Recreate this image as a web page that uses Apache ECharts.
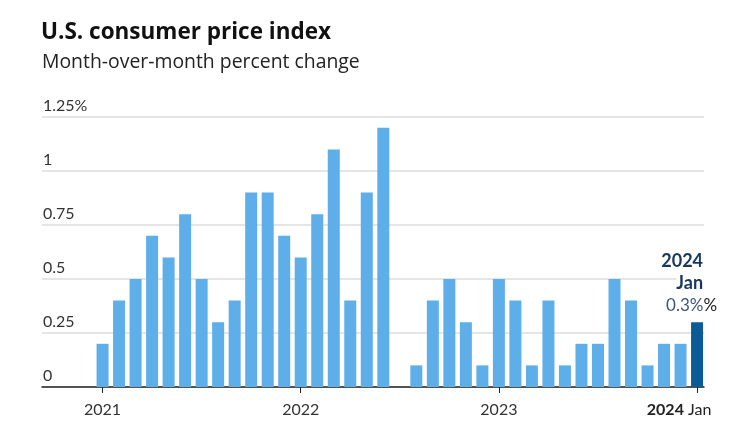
<!DOCTYPE html>
<html>
<head>
<meta charset="utf-8">
<script src="https://cdn.jsdelivr.net/npm/echarts@6/dist/echarts.min.js"></script>
<style>
html,body{margin:0;padding:0;background:#fff;}
#chart{width:740px;height:438px;}
</style>
</head>
<body>
<div id="chart"></div>
<script>
var months = [
  '2021-01','2021-02','2021-03','2021-04','2021-05','2021-06','2021-07','2021-08','2021-09','2021-10','2021-11','2021-12',
  '2022-01','2022-02','2022-03','2022-04','2022-05','2022-06','2022-07','2022-08','2022-09','2022-10','2022-11','2022-12',
  '2023-01','2023-02','2023-03','2023-04','2023-05','2023-06','2023-07','2023-08','2023-09','2023-10','2023-11','2023-12',
  '2024-01'
];
var cpi = [
  0.2,0.4,0.5,0.7,0.6,0.8,0.5,0.3,0.4,0.9,0.9,0.7,
  0.6,0.8,1.1,0.4,0.9,1.2,0.0,0.1,0.4,0.5,0.3,0.1,
  0.5,0.4,0.1,0.4,0.1,0.2,0.2,0.5,0.4,0.1,0.2,0.2,
  0.3
];
var tickIndex = [0, 12, 24, 36];
var tickYears = ['2021', '2022', '2023', '2024'];
var yTicks = [0, 0.25, 0.5, 0.75, 1, 1.25];

var FONT = 'Lato';
var TFONT = 'Open Sans';
var light = '#5eaeea';
var dark = '#0b5c96';
var navy = '#17375e';

var data = cpi.map(function (v, i) {
  var item = { value: [i, v] };
  if (i === cpi.length - 1) {
    item.itemStyle = { color: dark };
    item.label = {
      show: true,
      position: [26, -6],
      align: 'right',
      verticalAlign: 'bottom',
      formatter: function (p) {
        return '{y|2024}\n{m|Jan}\n{v|' + p.value[1].toFixed(1) + '%}{p|%}';
      },
      rich: {
        y: { fontFamily: FONT, fontSize: 18, fontWeight: 'bold', color: navy, lineHeight: 22, padding: [0, 14, 0, 0], align: 'right' },
        m: { fontFamily: FONT, fontSize: 18, fontWeight: 'bold', color: navy, lineHeight: 22, padding: [0, 14, 0, 0], backgroundColor: '#fff', align: 'right' },
        v: { fontFamily: FONT, fontSize: 17, color: '#3e5573', lineHeight: 22 },
        p: { fontFamily: FONT, fontSize: 17, color: '#222', lineHeight: 22 }
      }
    };
  }
  return item;
});

var chart = echarts.init(document.getElementById('chart'), null, { renderer: 'canvas' });
chart.setOption({
  animation: false,
  backgroundColor: '#fff',
  title: [
    { text: 'U.S. consumer price index', left: 41, top: 21, padding: 0,
      textStyle: { fontFamily: TFONT, fontSize: 22.5, fontWeight: 'bold', color: '#111' } },
    { text: 'Month-over-month percent change', left: 42, top: 53, padding: 0,
      textStyle: { fontFamily: TFONT, fontSize: 19.4, fontWeight: 'normal', color: '#222' } }
  ],
  grid: { left: 42, right: 36, top: 117, bottom: 51, containLabel: false },
  xAxis: {
    type: 'value',
    min: -3.667,
    max: 36.42,
    axisLine: { show: true, lineStyle: { color: '#222', width: 1.5 } },
    axisTick: { show: true, customValues: tickIndex, length: 6, lineStyle: { color: '#222', width: 1 } },
    splitLine: { show: false },
    axisLabel: {
      customValues: tickIndex,
      margin: 15,
      fontFamily: FONT, fontSize: 16, color: '#333',
      formatter: function (v) {
        var k = tickIndex.indexOf(Math.round(v));
        if (k < 0) return '';
        if (k === tickIndex.length - 1) return '{b|' + tickYears[k] + '}{n| Jan}';
        return tickYears[k];
      },
      rich: {
        b: { fontFamily: FONT, fontSize: 16, fontWeight: 'bold', color: '#222' },
        n: { fontFamily: FONT, fontSize: 16, color: '#222', padding: [0, 36, 0, 0] }
      }
    }
  },
  yAxis: {
    type: 'value',
    min: 0,
    max: 1.25,
    interval: 0.25,
    axisLine: { show: false },
    axisTick: { show: false },
    splitLine: { show: true, lineStyle: { color: '#dcdcdc', width: 1.5 } },
    axisLabel: {
      inside: true,
      margin: 1,
      verticalAlign: 'bottom',
      padding: [0, 0, 3, 0],
      fontFamily: FONT, fontSize: 16, color: '#333',
      formatter: function (v) {
        if (Math.abs(v - yTicks[yTicks.length - 1]) < 1e-9) return v + '%';
        return String(v);
      }
    }
  },
  series: [{
    type: 'bar',
    barWidth: 12,
    itemStyle: { color: light },
    data: data,
    z: 3
  }]
});
</script>
</body>
</html>
